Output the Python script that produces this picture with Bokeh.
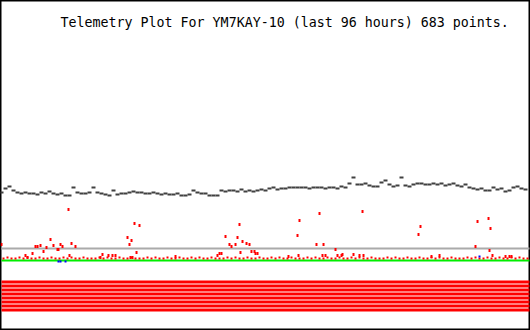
from bokeh.plotting import figure
from bokeh.models import Range1d, ColumnDataSource
from bokeh.core.properties import value
from bokeh.embed import file_html
from bokeh.resources import INLINE
import numpy as np

TITLE = "Telemetry Plot For YM7KAY-10 (last 96 hours) 683 points."

# ---- data (hours since start of 96 h window, channel value) ----
black_vals = [
    138, 142, 144, 140, 138,
    137, 138, 137, 137, 136,
    138, 137, 139, 137, 136,
    137, 135, 135, 143, 138,
    137, 137, 138, 143, 138,
    137, 136, 135, 140, 136,
    137, 137, 138, 139, 138,
    138, 137, 137, 138, 137,
    136, 137, 136, 136, 137,
    135, 135, 136, 140, 138,
    137, 137, 135, 135, 135,
    140, 139, 140, 140, 139,
    141, 139, 140, 139, 140,
    141, 140, 142, 143, 141,
    142, 142, 143, 143, 143,
    143, 143, 142, 143, 143,
    143, 142, 143, 143, 142,
    144, 143, 147, 153, 146,
    146, 147, 145, 144, 144,
    148, 150, 146, 144, 145,
    153, 145, 144, 146, 147,
    147, 146, 146, 147, 146,
    147, 145, 146, 147, 145,
    144, 146, 143, 142, 141,
    142, 140, 140, 143, 141,
    142, 139, 140, 143, 144,
    142, 141,
]

red_hours = [
    0.0, 4.36, 4.73, 5.64, 6.18, 6.55, 7.09, 7.64, 8.18, 8.91, 9.45, 10.18, 10.36,
    10.73, 11.09, 12.18, 12.36, 12.73, 13.45, 18.0, 18.36, 19.45, 20.18, 20.73,
    22.91, 23.27, 23.45, 23.64, 23.82, 24.18, 24.55, 25.09, 31.64, 39.27, 39.64,
    40.0, 40.73, 41.45, 41.82, 42.55, 42.91, 43.27, 43.45, 43.82, 44.55, 45.09,
    45.45, 46.0, 46.18, 46.55, 52.18, 53.82, 54.0, 54.18, 57.27, 57.82, 58.36,
    58.55, 58.91, 60.73, 61.09, 61.82, 62.0, 64.0, 65.09, 65.64, 65.82, 75.82,
    76.18, 78.18, 79.64, 86.18, 86.55, 88.55, 88.73, 88.91, 89.27, 91.64, 92.36,
    92.73,
]
red_vals = [
    86, 75, 73, 77, 84, 84, 85, 79, 83, 91, 85, 81, 81,
    86, 84, 121, 75, 87, 84, 73, 76, 75, 75, 75,
    93, 86, 73, 90, 73, 107, 78, 105, 74, 75, 77,
    77, 94, 86, 84, 86, 93, 106, 78, 89, 87, 86,
    79, 79, 77, 77, 74, 95, 75, 110, 86, 117, 75,
    86, 75, 81, 75, 75, 76, 76, 75, 119, 75, 96,
    104, 74, 75, 84, 109, 112, 80, 102, 75, 74, 74,
    74,
]

# dense low readings of the same channel, sitting just above the zero line
red_low_vals = [
    72, 73, 72, 72, 73, 72, 73, 72, 72, 73, 72, 72, 73, 72, 72, 73, 72, 73, 72, 72,
    73, 72, 72, 72, 73, 72, 73, 72, 72, 73, 72, 72, 73, 72, 72, 72, 73, 72, 73, 72,
    72, 73, 72, 72, 73, 72, 72, 73, 72, 73, 72, 72, 73, 72, 72, 72, 73, 72, 73, 72,
    72, 73, 72, 72, 73, 72, 72, 73, 72, 73, 72, 72, 73, 72, 72, 72, 73, 72, 73, 72,
    72, 73, 72, 72, 73, 72, 72, 73, 72, 73, 72, 72, 73, 72, 72, 72, 73, 72, 73, 72,
    72, 73, 72, 72, 73, 72, 72, 73, 72, 73, 72, 72, 73, 72, 72, 72, 73, 72, 73, 72,
    72, 73, 72, 72, 73, 72, 72, 73, 72, 73, 72, 72,
]

blue_hours = [10.36, 10.73, 11.64, 86.91]
blue_vals = [69, 69, 69, 74]

zero_level = 70.0
ref_level = 82.0

bit_names = ["B1", "B2", "B3", "B4", "B5", "B6", "B7", "B8"]
bit_levels = [48.5, 44.5, 40.5, 36.5, 32.5, 28.5, 24.5, 20.5]
bit_states = [1, 1, 1, 1, 1, 1, 1, 1]

HOURS = 96.0
SLOT = HOURS / 528.0  # hours per pixel column of the original plotter

black_t = np.arange(len(black_vals)) * HOURS / 132.0
low_t = (np.arange(len(red_low_vals)) * 4 + 2) * SLOT

pad = SLOT
p = figure(width=530, height=330, output_backend="svg", toolbar_location=None,
           x_range=Range1d(-pad, HOURS + pad), y_range=Range1d(0, 330),
           min_border=0, background_fill_color="white", border_fill_color="white")
p.axis.visible = False
p.grid.visible = False
p.outline_line_color = "black"
p.outline_line_width = 2

# digital bits
on_levels = [lv for lv, s in zip(bit_levels, bit_states) if s]
p.hbar(y=on_levels, left=0, right=[HOURS] * len(on_levels), height=3,
       color="#ff0000", line_width=0)

# zero and reference lines
p.line(x=[0, HOURS], y=[zero_level, zero_level], line_color="#00ee00", line_width=2)
p.line(x=[0, HOURS], y=[ref_level, ref_level], line_color="#aaaaaa", line_width=2)

# red analog channel
low_src = ColumnDataSource(dict(x=low_t, y=red_low_vals))
p.rect(x="x", y="y", source=low_src, width=2, height=2, width_units="screen",
       height_units="screen", color="#ff0000", line_width=0)
red_src = ColumnDataSource(dict(x=red_hours, y=red_vals))
p.rect(x="x", y="y", source=red_src, width=2, height=3, width_units="screen",
       height_units="screen", color="#ff0000", line_width=0)
p.rect(x=blue_hours, y=blue_vals, width=2, height=2, width_units="screen",
       height_units="screen", color="#0000ff", line_width=0)

# black analog channel
p.rect(x=black_t, y=black_vals, width=4, height=2, width_units="screen",
       height_units="screen", color="#404040", line_width=0)

# title
p.text(x=[10.73], y=[308], text=[TITLE], text_font=value("DejaVu Sans Mono"),
       text_font_size="13.3px", text_color="black", text_baseline="alphabetic")

open("out.html", "w").write(file_html(p, INLINE))
